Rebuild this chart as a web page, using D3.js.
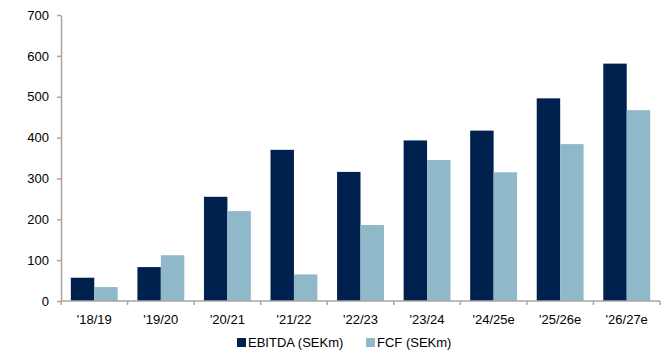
<!DOCTYPE html>
<html>
<head>
<meta charset="utf-8">
<script src="https://cdn.jsdelivr.net/npm/d3@7.9.0/dist/d3.min.js"></script>
<style>
  body { margin: 0; background: #fff; }
  svg { font-family: "Liberation Sans", Arial, sans-serif; }
</style>
</head>
<body>
<svg id="chart" width="665" height="354"></svg>
<script>
// Data
const years = ["'18/19", "'19/20", "'20/21", "'21/22", "'22/23", "'23/24", "'24/25e", "'25/26e", "'26/27e"];
const ebitda = [57, 83, 255, 370, 316, 393, 417, 496, 581];
const fcf = [34, 112, 220, 65, 186, 345, 315, 384, 467];
const seriesNames = ["EBITDA (SEKm)", "FCF (SEKm)"];
const yTicks = [0, 100, 200, 300, 400, 500, 600, 700];

const colors = ["#00204e", "#8fb8c8"];
const axisColor = "#a6a6a6";

const svg = d3.select("#chart");
const margin = { top: 15, right: 5, bottom: 53, left: 61 };
const width = 665 - margin.left - margin.right;
const height = 354 - margin.top - margin.bottom;

const g = svg.append("g").attr("transform", `translate(${margin.left},${margin.top})`);

const x = d3.scaleBand().domain(years).range([0, width]).paddingInner(0).paddingOuter(0);
const x1 = d3.scaleBand().domain([0, 1]).range([0, x.bandwidth()]).paddingInner(0).paddingOuter(0.42);
const y = d3.scaleLinear().domain([0, 700]).range([height, 0]);

const rows = years.map((yr, i) => ({ yr, vals: [ebitda[i], fcf[i]] }));

// bars
g.selectAll("g.grp")
  .data(rows)
  .join("g")
  .attr("class", "grp")
  .attr("transform", d => `translate(${x(d.yr)},0)`)
  .selectAll("rect")
  .data(d => d.vals.map((v, k) => ({ v, k })))
  .join("rect")
  .attr("x", d => x1(d.k))
  .attr("width", x1.bandwidth())
  .attr("y", d => y(d.v))
  .attr("height", d => height - y(d.v))
  .attr("fill", d => colors[d.k]);

// y axis
const yAxis = g.append("g")
  .call(d3.axisLeft(y).tickValues(yTicks).tickSize(4).tickPadding(8).tickSizeOuter(0));
yAxis.select(".domain").attr("stroke", axisColor).attr("stroke-width", 1.5);
yAxis.selectAll(".tick line").attr("stroke", axisColor).attr("stroke-width", 1.5);
yAxis.selectAll("text").attr("fill", "#000").style("font-size", "13px");

// x axis: ticks at band boundaries
const xAxis = g.append("g").attr("transform", `translate(0,${height})`);
xAxis.append("line")
  .attr("x1", 0).attr("x2", width)
  .attr("stroke", axisColor).attr("stroke-width", 1.5);
xAxis.selectAll("line.tk")
  .data(years.concat([null]))
  .join("line")
  .attr("class", "tk")
  .attr("x1", (d, i) => i * x.step())
  .attr("x2", (d, i) => i * x.step())
  .attr("y1", 0).attr("y2", 4)
  .attr("stroke", axisColor).attr("stroke-width", 1.5);
xAxis.selectAll("text")
  .data(years)
  .join("text")
  .attr("x", d => x(d) + x.bandwidth() / 2)
  .attr("y", 23)
  .attr("text-anchor", "middle")
  .style("font-size", "13px")
  .text(d => d);

// legend
const legend = svg.append("g").attr("transform", "translate(237,338)");
const legendX = [0, 129];
seriesNames.forEach((name, k) => {
  const lg = legend.append("g").attr("transform", `translate(${legendX[k]},0)`);
  lg.append("rect").attr("width", 9).attr("height", 9).attr("fill", colors[k]);
  lg.append("text").attr("x", 11).attr("y", 9).style("font-size", "13px").text(name);
});
</script>
</body>
</html>
